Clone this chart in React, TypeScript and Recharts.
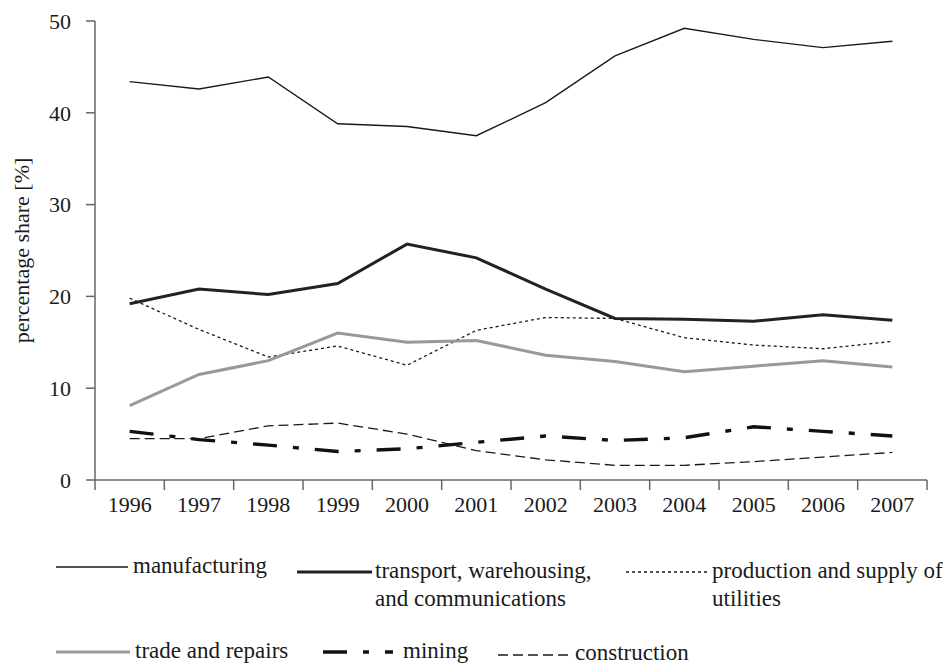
import { LineChart, Line, XAxis, YAxis } from "recharts";

const YEARS = ["1996", "1997", "1998", "1999", "2000", "2001", "2002", "2003", "2004", "2005", "2006", "2007"];

const MANUFACTURING = [43.4, 42.6, 43.9, 38.8, 38.5, 37.5, 41.1, 46.2, 49.2, 48.0, 47.1, 47.8];
const TRANSPORT = [19.2, 20.8, 20.2, 21.4, 25.7, 24.2, 20.8, 17.6, 17.5, 17.3, 18.0, 17.4];
const UTILITIES = [19.8, 16.4, 13.4, 14.6, 12.5, 16.3, 17.7, 17.6, 15.5, 14.7, 14.3, 15.1];
const TRADE = [8.1, 11.5, 13.0, 16.0, 15.0, 15.2, 13.6, 12.9, 11.8, 12.4, 13.0, 12.3];
const MINING = [5.3, 4.4, 3.8, 3.1, 3.4, 4.1, 4.8, 4.3, 4.6, 5.8, 5.3, 4.8];
const CONSTRUCTION = [4.5, 4.5, 5.9, 6.2, 5.0, 3.2, 2.2, 1.6, 1.6, 2.0, 2.5, 3.0];

const Y_TICKS = [0, 10, 20, 30, 40, 50];

const FONT = "'Liberation Serif', 'DejaVu Serif', serif";
const AXIS = "#666";
const TEXT = "#1a1a1a";

type Series = {
  key: string;
  label: string[];
  values: number[];
  stroke: string;
  width: number;
  dash?: string;
};

const SERIES: Series[] = [
  { key: "manufacturing", label: ["manufacturing"], values: MANUFACTURING, stroke: "#1a1a1a", width: 1.4 },
  {
    key: "transport",
    label: ["transport, warehousing,", "and communications"],
    values: TRANSPORT,
    stroke: "#222",
    width: 3,
  },
  {
    key: "utilities",
    label: ["production and supply of", "utilities"],
    values: UTILITIES,
    stroke: "#1a1a1a",
    width: 1.3,
    dash: "3 3",
  },
  { key: "trade", label: ["trade and repairs"], values: TRADE, stroke: "#999", width: 3 },
  { key: "mining", label: ["mining"], values: MINING, stroke: "#111", width: 3.4, dash: "24 16 6 16" },
  { key: "construction", label: ["construction"], values: CONSTRUCTION, stroke: "#1a1a1a", width: 1.3, dash: "10 5" },
];

// legend placement, in wrapper coords
const LEGEND_POS: Record<string, { x1: number; x2: number; y: number; tx: number; ty: number }> = {
  manufacturing: { x1: 48, x2: 120, y: 559, tx: 125, ty: 565 },
  transport: { x1: 289, x2: 364, y: 564, tx: 367, ty: 570 },
  utilities: { x1: 618, x2: 702, y: 564, tx: 704, ty: 570 },
  trade: { x1: 48, x2: 122, y: 644, tx: 127, ty: 650 },
  mining: { x1: 315, x2: 385, y: 644, tx: 395, ty: 650 },
  construction: { x1: 490, x2: 564, y: 647, tx: 567, ty: 652 },
};

const data = YEARS.map((year, i) => {
  const row: Record<string, number | string> = { year, x: i + 0.5 };
  SERIES.forEach((s) => {
    row[s.key] = s.values[i];
  });
  return row;
});

// tick lines on the category borders, year labels in the middle of each band
const X_TICKS = YEARS.flatMap((_, i) => [i, i + 0.5]).concat(YEARS.length);

function YearTick({ x, y, payload }: { x: number; y: number; payload: { value: number } }) {
  const v = payload.value;
  if (Number.isInteger(v)) {
    return <line x1={x} x2={x} y1={y - 10} y2={y} stroke={AXIS} strokeWidth={1.5} />;
  }
  return (
    <text x={x} y={y} dy={22} textAnchor="middle" fill={TEXT} fontSize={22} fontFamily={FONT}>
      {YEARS[Math.floor(v)]}
    </text>
  );
}

function ChartLegend() {
  return (
    <svg width={943} height={657} style={{ position: "absolute", left: 0, top: 0, pointerEvents: "none" }}>
      {SERIES.map((s) => {
        const p = LEGEND_POS[s.key];
        return (
          <g key={s.key}>
            <line x1={p.x1} x2={p.x2} y1={p.y} y2={p.y} stroke={s.stroke} strokeWidth={s.width} strokeDasharray={s.dash} />
            <text x={p.tx} y={p.ty} fill={TEXT} fontSize={23} fontFamily={FONT}>
              {s.label.map((line, i) => (
                <tspan key={i} x={p.tx} dy={i === 0 ? 0 : 28}>
                  {line}
                </tspan>
              ))}
            </text>
          </g>
        );
      })}
    </svg>
  );
}

export default function App() {
  return (
    <div style={{ position: "relative", width: 935, height: 657, fontFamily: FONT }}>
      <LineChart width={935} height={530} data={data} margin={{ top: 13, right: 16, bottom: 18, left: 0 }}>
        <XAxis
          type="number"
          dataKey="x"
          domain={[0, YEARS.length]}
          ticks={X_TICKS}
          interval={0}
          height={40}
          tickSize={10}
          tickMargin={0}
          tickLine={false}
          axisLine={{ stroke: AXIS, strokeWidth: 1.5 }}
          tick={(props: any) => <YearTick {...props} />}
        />
        <YAxis
          width={87}
          domain={[0, 50]}
          ticks={Y_TICKS}
          tickSize={9}
          tickMargin={15}
          axisLine={{ stroke: AXIS, strokeWidth: 1.5 }}
          tickLine={{ stroke: AXIS, strokeWidth: 1.5 }}
          tick={{ fill: TEXT, fontSize: 22, fontFamily: FONT }}
          label={{
            value: "percentage share [%]",
            angle: -90,
            position: "center",
            dx: -30,
            fill: TEXT,
            fontSize: 22,
            fontFamily: FONT,
          }}
        />
        {SERIES.map((s) => (
          <Line
            key={s.key}
            dataKey={s.key}
            type="linear"
            stroke={s.stroke}
            strokeWidth={s.width}
            strokeDasharray={s.dash}
            dot={false}
            activeDot={false}
            isAnimationActive={false}
          />
        ))}
      </LineChart>
      <ChartLegend />
    </div>
  );
}
